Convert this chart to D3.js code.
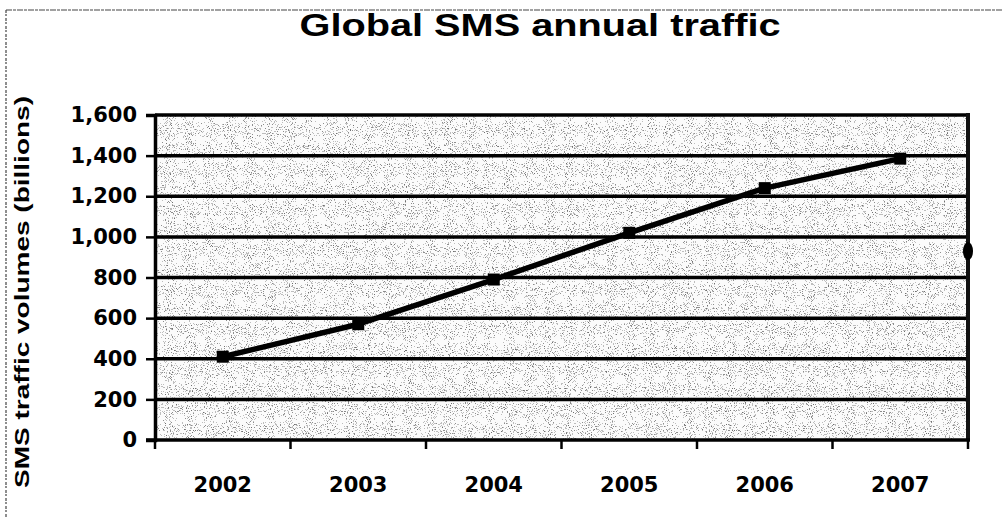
<!DOCTYPE html>
<html>
<head>
<meta charset="utf-8">
<script src="https://cdn.jsdelivr.net/npm/d3@7"></script>
<style>
  html, body { margin: 0; padding: 0; background: #fff; }
  svg { display: block; }
  text { fill: #000; }
</style>
</head>
<body>
<svg id="chart" width="1002" height="518"></svg>
<script>
// ---- data ----
const years = ["2002", "2003", "2004", "2005", "2006", "2007"];
const smsVolumes = [410, 570, 790, 1020, 1240, 1385];
const yTicks = [0, 200, 400, 600, 800, 1000, 1200, 1400, 1600];
const strayMarkerValue = [930];
const titleText = "Global SMS annual traffic";
const yTitleText = "SMS traffic volumes (billions)";

// ---- layout ----
const W = 1002, H = 518;
const plot = { left: 155, right: 968, top: 115, bottom: 440 };
const tickFont = "'DejaVu Sans', sans-serif";
const titleFont = "'Liberation Sans', Arial, sans-serif";

const svg = d3.select("#chart");

// noise texture filter
const defs = svg.append("defs");
const f = defs.append("filter").attr("id", "speckle")
  .attr("x", 0).attr("y", 0).attr("width", "100%").attr("height", "100%");
f.append("feTurbulence").attr("type", "fractalNoise").attr("baseFrequency", "0.95")
  .attr("numOctaves", 2).attr("seed", 7).attr("result", "t");
f.append("feColorMatrix").attr("in", "t").attr("type", "matrix")
  .attr("values", "0 0 0 0 0  0 0 0 0 0  0 0 0 0 0  1.6 0 0 0 -0.35").attr("result", "a");
const ct = f.append("feComponentTransfer").attr("in", "a");
ct.append("feFuncA").attr("type", "discrete").attr("tableValues", "0 0 0 0 0 0.45 0.8 1");

// outer frame (top + left, rough dotted)
svg.append("line").attr("x1", 6).attr("x2", W).attr("y1", 10).attr("y2", 10)
  .attr("stroke", "#444").attr("stroke-width", 1.2).attr("stroke-dasharray", "6 1 3 1");
svg.append("line").attr("x1", 6).attr("x2", 6).attr("y1", 10).attr("y2", H)
  .attr("stroke", "#444").attr("stroke-width", 1.2).attr("stroke-dasharray", "3 1 2 2");

// scales
const x = d3.scaleBand().domain(years).range([plot.left, plot.right]).padding(0);
const y = d3.scaleLinear().domain([0, 1600]).range([plot.bottom, plot.top]);

// plot background
svg.append("rect").attr("x", plot.left).attr("y", plot.top)
  .attr("width", plot.right - plot.left).attr("height", plot.bottom - plot.top)
  .attr("fill", "#fbfbfb");
svg.append("rect").attr("x", plot.left).attr("y", plot.top)
  .attr("width", plot.right - plot.left).attr("height", plot.bottom - plot.top)
  .attr("fill", "#222").attr("filter", "url(#speckle)").attr("opacity", 0.55);

// gridlines
svg.append("g").selectAll("line").data(yTicks.filter(d => d > 0)).join("line")
  .attr("x1", plot.left).attr("x2", plot.right)
  .attr("y1", d => y(d)).attr("y2", d => y(d))
  .attr("stroke", "#000").attr("stroke-width", 3.5);

// right border
svg.append("line").attr("x1", plot.right).attr("x2", plot.right)
  .attr("y1", plot.top - 2).attr("y2", plot.bottom)
  .attr("stroke", "#111").attr("stroke-width", 4);

// y axis
const yAxis = svg.append("g").attr("transform", `translate(${plot.left},0)`)
  .call(d3.axisLeft(y).tickValues(yTicks).tickFormat(d3.format(",")).tickSize(9).tickPadding(9));
yAxis.select(".domain").attr("stroke", "#000").attr("stroke-width", 3.5);
yAxis.selectAll(".tick line").attr("stroke", "#000").attr("stroke-width", 2.5);
yAxis.selectAll(".tick text").attr("font-size", 21).attr("font-weight", "bold")
  .style("font-family", tickFont).attr("fill", "#000");

// x axis (line + ticks at category boundaries)
svg.append("line").attr("x1", plot.left - 9).attr("x2", plot.right + 2)
  .attr("y1", plot.bottom).attr("y2", plot.bottom)
  .attr("stroke", "#000").attr("stroke-width", 3.5);
const bounds = years.map(d => x(d)).concat([x(years[years.length - 1]) + x.bandwidth()]);
svg.append("g").selectAll("line").data(bounds).join("line")
  .attr("x1", d => d).attr("x2", d => d)
  .attr("y1", plot.bottom).attr("y2", plot.bottom + 9)
  .attr("stroke", "#000").attr("stroke-width", 2.5);
svg.append("g").selectAll("text").data(years).join("text")
  .attr("x", d => x(d) + x.bandwidth() / 2).attr("y", 492)
  .attr("text-anchor", "middle").attr("font-size", 21).attr("font-weight", "bold")
  .style("font-family", tickFont)
  .text(d => d);

// line series
const cx = d => x(d) + x.bandwidth() / 2;
const pts = years.map((d, i) => [cx(d), y(smsVolumes[i])]);
svg.append("path").datum(pts)
  .attr("d", d3.line())
  .attr("fill", "none").attr("stroke", "#000").attr("stroke-width", 5.5)
  .attr("stroke-linejoin", "round").attr("stroke-linecap", "round");
svg.append("g").selectAll("rect").data(pts).join("rect")
  .attr("x", d => d[0] - 6).attr("y", d => d[1] - 6)
  .attr("width", 12).attr("height", 12).attr("fill", "#000");

// stray marker on the right edge
svg.append("g").selectAll("ellipse").data(strayMarkerValue).join("ellipse")
  .attr("cx", plot.right).attr("cy", d => y(d))
  .attr("rx", 5).attr("ry", 9).attr("fill", "#000");

// titles
svg.append("text").attr("x", 540).attr("y", 36).attr("text-anchor", "middle")
  .style("font-family", titleFont)
  .attr("font-size", 31).attr("font-weight", "bold")
  .attr("textLength", 481).attr("lengthAdjust", "spacingAndGlyphs")
  .text(titleText);
svg.append("text").attr("transform", "translate(29,292) rotate(-90)")
  .attr("text-anchor", "middle").attr("font-size", 21).attr("font-weight", "bold")
  .style("font-family", titleFont)
  .attr("textLength", 392).attr("lengthAdjust", "spacingAndGlyphs")
  .text(yTitleText);
</script>
</body>
</html>
